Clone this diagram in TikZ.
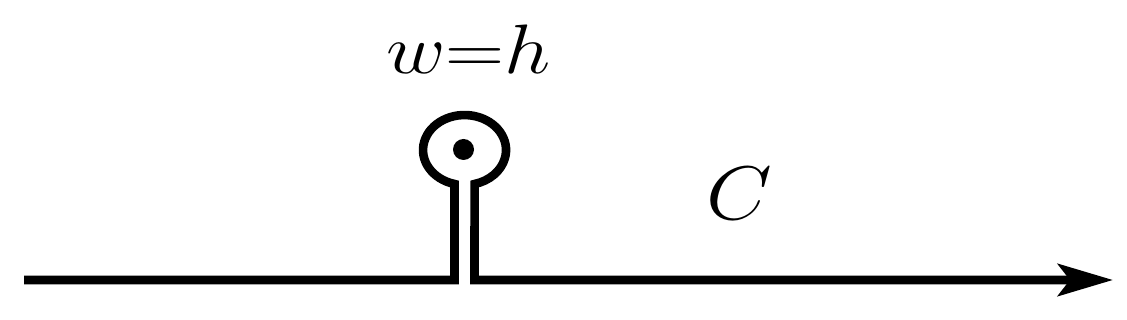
\RequirePackage{fix-cm}
\documentclass[tikz,border=0pt]{standalone}
\usepackage{graphicx}
\usetikzlibrary{arrows.meta}
\begin{document}
\begin{tikzpicture}[x=1pt,y=1pt,
  contour/.style={line width=8.6pt, line join=miter,
    -{Stealth[length=55pt,width=32pt,inset=12pt]}},
  lbl/.style={inner sep=0pt, anchor=base west}]
\useasboundingbox (0,0) rectangle (1127,320);
\coordinate (start) at (24,40);
\coordinate (lfoot) at (454.5,40);
\coordinate (ltop) at (454.5,136);
\coordinate (rfoot) at (474.5,40);
\coordinate (tip) at (1113,40);
\coordinate (pole) at (463.5,170.5);
\draw[contour] (start) -- (lfoot) -- (ltop)
  arc[start angle=256, end angle=-76, x radius=41.5, y radius=35]
  -- (rfoot) -- (tip);
\fill (pole) circle[radius=10.5];
\node[lbl] (wh) at (386,246.5) {\scalebox{1.17}[1]{\fontsize{70}{80}\selectfont$w{=}h$}};
\node[lbl] (C) at (706,100.5) {\scalebox{1.12}[1]{\fontsize{76}{88}\selectfont$C$}};
\end{tikzpicture}
\end{document}
